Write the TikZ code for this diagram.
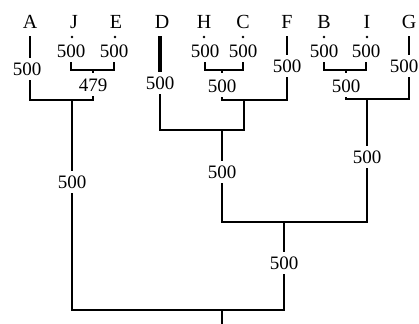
\documentclass[tikz,border=0pt]{standalone}
\usepackage{fontspec}
\setmainfont{Liberation Serif}
\begin{document}
\begin{tikzpicture}[x=1pt,y=-1pt,
  every node/.style={inner sep=0pt, outer sep=0pt},
  leaf/.style={font=\fontsize{20}{23}\selectfont, text height=13pt, text depth=0pt, inner ysep=8pt, inner xsep=1pt},
  len/.style={font=\fontsize{19}{22}\selectfont, text height=12.5pt, text depth=0pt, inner ysep=5pt, inner xsep=1pt},
  branch/.style={line width=2.3pt},
  stem/.style={line width=3.4pt},
  dot/.style={fill=black}
]
\useasboundingbox[fill=white] (0,0) rectangle (419,323);

% taxa
\node[leaf] (A) at (30,22) {A};
\node[leaf] (J) at (74,22) {J};
\node[leaf] (E) at (116,22) {E};
\node[leaf] (D) at (162,22) {D};
\node[leaf] (H) at (204,22) {H};
\node[leaf] (C) at (243,22) {C};
\node[leaf] (F) at (287,22) {F};
\node[leaf] (B) at (324,22) {B};
\node[leaf] (I) at (367,22) {I};
\node[leaf] (G) at (409,22) {G};

% branch support values
\node[len] (lA) at (27,69) {500};
\node[len] (lJ) at (71,51) {500};
\node[len] (lE) at (114,51) {500};
\node[len] (lJE) at (93,85) {479};
\node[len] (lD) at (160,83) {500};
\node[len] (lH) at (205,51) {500};
\node[len] (lC) at (243,51) {500};
\node[len] (lHC) at (222,86) {500};
\node[len] (lF) at (287,66) {500};
\node[len] (lB) at (324,51) {500};
\node[len] (lI) at (366,51) {500};
\node[len] (lBI) at (346,86) {500};
\node[len] (lG) at (404,66) {500};
\node[len] (lAJE) at (72,182) {500};
\node[len] (lDHCF) at (222,172) {500};
\node[len] (lBIG) at (367,157) {500};
\node[len] (lDG) at (284,263) {500};

% internal points
\coordinate (dJ) at (72,37);
\coordinate (dE) at (115,37);
\coordinate (dH) at (204,37);
\coordinate (dC) at (243,37);
\coordinate (dB) at (324,37);
\coordinate (dI) at (367,37);
\coordinate (bJE) at (93,70);
\coordinate (tJE) at (93,73);
\coordinate (jA) at (93,100);
\coordinate (nAJE) at (72,100);
\coordinate (bHC) at (222,70);
\coordinate (tHC) at (222,73);
\coordinate (fJ) at (287,100);
\coordinate (hcJ) at (244,100);
\coordinate (dR) at (244,130);
\coordinate (nDHCF) at (222,130);
\coordinate (gR) at (367,222);
\coordinate (nDG) at (284,222);
\coordinate (bBI) at (346,70);
\coordinate (tBI) at (346,73);
\coordinate (gJ) at (409,99);
\coordinate (nBIG) at (367,99);
\coordinate (rR) at (284,310);
\coordinate (root) at (222,310);
\coordinate (rootEnd) at (222,330);

% terminal dots
\foreach \p in {dJ,dE,dH,dC,dB,dI} \fill[dot] (\p) circle (1.4pt);

% A + (J,E)
\draw[branch] (A.south) -- (A.south |- lA.north);
\draw[branch] (lJ.south) |- (bJE) -| (lE.south);
\draw[branch] (bJE) -- (tJE);
\draw[branch] (lA.south -| A) |- (jA) -- (lJE.south);

% (D,((H,C),F))
\draw[stem] (D.south -| lD) -- (lD.north);
\draw[branch] (lH.south) |- (bHC) -| (lC.south);
\draw[branch] (bHC) -- (tHC);
\draw[branch] (F.south) -- (lF.north);
\draw[branch] (lHC.south) |- (fJ) -- (lF.south);
\draw[branch] (lD.south) |- (dR) -- (hcJ);
\draw[branch] (nDHCF) -- (lDHCF.north);

% ((B,I),G)
\draw[branch] (lB.south) |- (bBI) -| (lI.south);
\draw[branch] (bBI) -- (tBI);
\draw[branch] (G.south) -- (G.south |- lG.north);
\draw[branch] (lBI.south) |- (gJ) -- (lG.south -| G);
\draw[branch] (nBIG) -- (lBIG.north);

% joining the right clades
\draw[branch] (lDHCF.south) |- (gR) -- (lBIG.south);
\draw[branch] (nDG) -- (lDG.north);

% root
\draw[branch] (nAJE) -- (lAJE.north);
\draw[branch] (lAJE.south) |- (rR) -- (lDG.south);
\draw[branch] (root) -- (rootEnd);
\end{tikzpicture}
\end{document}
